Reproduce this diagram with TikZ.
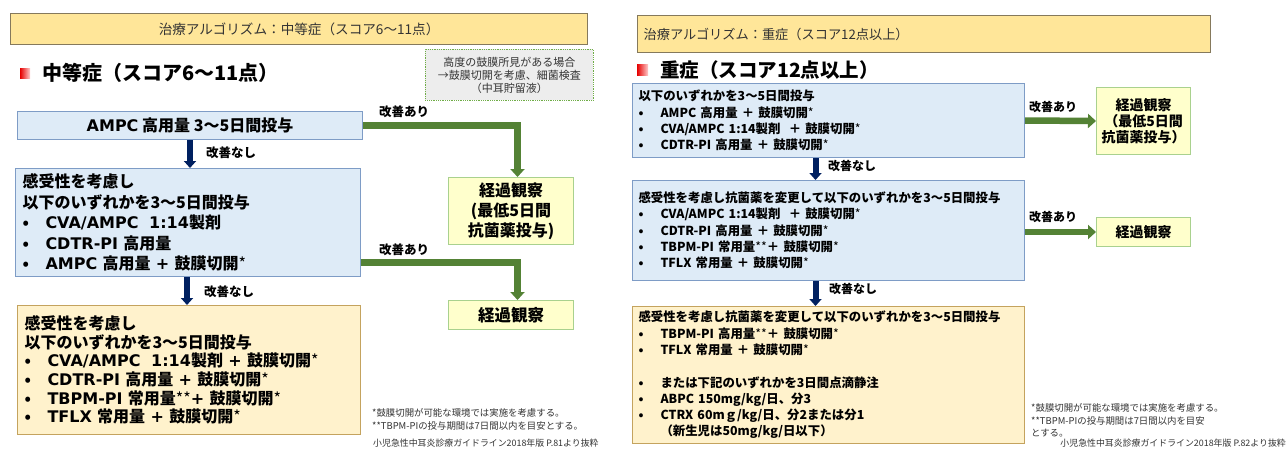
\documentclass[tikz,border=0pt]{standalone}
\usepackage{fontspec}
\setmainfont{Noto Sans CJK JP}
\newfontfamily\djvfont{DejaVu Sans}
\newcommand{\dvl}[1]{{\djvfont #1}}
\usetikzlibrary{arrows.meta}
\definecolor{bannerfill}{HTML}{FFE699}
\definecolor{bannerline}{HTML}{85795C}
\definecolor{bluefill}{HTML}{DEEBF7}
\definecolor{blueline}{HTML}{7E9CC6}
\definecolor{yelfill}{HTML}{FFF2CC}
\definecolor{yelline}{HTML}{C4A35E}
\definecolor{grnfill}{HTML}{FFFFCC}
\definecolor{grnline}{HTML}{A9D18E}
\definecolor{arrowgreen}{HTML}{548235}
\definecolor{arrowblue}{HTML}{002060}
\definecolor{notefill}{HTML}{EDEDED}
\definecolor{noteline}{HTML}{70AD47}
\definecolor{txtgray}{HTML}{333333}
\newcommand{\itmL}{\makebox[23pt][l]{•}}
\newcommand{\itmR}{\makebox[22pt][l]{•}}
\newcommand{\fnast}{{\mdseries *}}
\tikzset{
  boxbase/.style={draw, line width=1pt, anchor=north west, inner ysep=0pt},
  bluebox/.style={boxbase, fill=bluefill, draw=blueline},
  yelbox/.style={boxbase, fill=yelfill, draw=yelline},
  grnbox/.style={boxbase, fill=grnfill, draw=grnline, align=center, inner xsep=0pt},
  banner/.style={boxbase, fill=bannerfill, draw=bannerline, line width=1.2pt, text=txtgray},
  fontL/.style={font=\fontsize{16}{20.5}\selectfont\bfseries},
  fontC/.style={font=\fontsize{16}{18.6}\selectfont\bfseries},
  fontR/.style={font=\fontsize{12.4}{16.3}\selectfont\bfseries},
  lbl/.style={font=\fontsize{12.5}{15}\selectfont\bfseries},
  foot/.style={font=\fontsize{9.4}{12}\selectfont, text=txtgray, anchor=west, inner sep=0pt},
  garrow/.style={draw=arrowgreen, line width=6.5pt, -{Triangle[width=14pt,length=8pt]}},
  barrow/.style={draw=arrowblue, line width=6pt, -{Triangle[width=12pt,length=7pt]}},
}
\begin{document}
\begin{tikzpicture}[x=1pt,y=-1pt]
\useasboundingbox (0,0) rectangle (1287,448);
\fill[white] (0,0) rectangle (1287,448);

% ---------------- LEFT ----------------
\node[banner, minimum width=577pt, minimum height=31pt, align=center,
      font=\fontsize{13.6}{16}\selectfont] (TL) at (10,13) {治療アルゴリズム：中等症（スコア6～11点）};
\shade[left color=red!90!black, right color=red!20] (20,68) rectangle (30,78);
\node[anchor=west, inner sep=0pt, font=\fontsize{20}{24}\selectfont\bfseries] (HL) at (42,73) {中等症（スコア6～11点）};
\node[boxbase, fill=notefill, draw=noteline, line width=0.8pt, densely dotted,
      minimum width=168pt, minimum height=51pt, align=center, text=txtgray,
      font=\fontsize{11}{13}\selectfont] (NOTE) at (425,49) {高度の鼓膜所見がある場合\\→鼓膜切開を考慮、細菌検査\\（中耳貯留液）};

\node[bluebox, fontL, minimum width=345pt, minimum height=28pt, align=center] (A) at (17,111) {\dvl{AMPC} 高用量 3～5日間投与};
\node[bluebox, fontL, minimum width=345pt, minimum height=108pt, text width=331pt, inner xsep=7pt, align=left] (B) at (15,168)
 {感受性を考慮し\\以下のいずれかを3～5日間投与\\\itmL \dvl{CVA/AMPC~~1:14}製剤\\\itmL \dvl{CDTR-PI} 高用量\\\itmL \dvl{AMPC} 高用量\dvl{ + }鼓膜切開\fnast};
\node[yelbox, fontC, minimum width=343pt, minimum height=129pt, text width=329pt, inner xsep=7pt, align=left] (C) at (17,305)
 {感受性を考慮し\\以下のいずれかを3～5日間投与\\\itmL \dvl{CVA/AMPC~~1:14}製剤\dvl{ + }鼓膜切開\fnast\\\itmL \dvl{CDTR-PI} 高用量\dvl{ + }鼓膜切開\fnast\\\itmL \dvl{TBPM-PI} 常用量{\mdseries **}\dvl{+ }鼓膜切開\fnast\\\itmL \dvl{TFLX} 常用量\dvl{ + }鼓膜切開\fnast};
\node[grnbox, minimum width=125pt, minimum height=67pt, font=\fontsize{16}{20.2}\selectfont\bfseries] (GL1) at (448,177) {経過観察\\(最低5日間\\抗菌薬投与)};
\node[grnbox, minimum width=125pt, minimum height=29pt, font=\fontsize{16.5}{20}\selectfont\bfseries] (GL2) at (448,300) {経過観察};

\draw[garrow] (A.east) -| ([xshift=6.5pt]GL1.north);
\draw[garrow] ([yshift=-40pt]B.east) -| ([xshift=6.5pt]GL2.north);
\draw[barrow] (A.south) -- (A.south |- B.north);
\draw[barrow] ([xshift=-1pt]B.south) -- ([xshift=-1pt]B.south |- C.north);
\node[lbl] (LA1) at (404,112) {改善あり};
\node[lbl] (LA2) at (404,250) {改善あり};
\node[lbl] (LN1) at (231,153) {改善なし};
\node[lbl] (LN2) at (229,292) {改善なし};

\node[foot] (FL1) at (372,413) {*鼓膜切開が可能な環境では実施を考慮する。};
\node[foot] (FL2) at (372,426) {**TBPM-PIの投与期間は7日間以内を目安とする。};
\node[foot, font=\fontsize{8.9}{11}\selectfont] (RL) at (373,443) {小児急性中耳炎診療ガイドライン2018年版 P.81より抜粋};

% ---------------- RIGHT ----------------
\node[banner, minimum width=573pt, minimum height=37pt, text width=561pt, inner xsep=6pt, align=left,
      font=\fontsize{13.2}{16}\selectfont] (TR) at (637,15) {治療アルゴリズム：重症（スコア12点以上）};
\shade[left color=red!90!black, right color=red!20] (637,64) rectangle (648,75);
\node[anchor=west, inner sep=0pt, font=\fontsize{19.5}{24}\selectfont\bfseries] (HR) at (660,70) {重症（スコア12点以上）};

\node[bluebox, fontR, minimum width=392pt, minimum height=74pt, text width=380pt, inner xsep=6pt, align=left] (R1) at (632,83)
 {以下のいずれかを3～5日間投与\\\itmR AMPC 高用量 ＋ 鼓膜切開\fnast\\\itmR CVA/AMPC 1:14製剤~~＋ 鼓膜切開\fnast\\\itmR CDTR-PI 高用量 ＋ 鼓膜切開\fnast};
\node[bluebox, fontR, minimum width=392pt, minimum height=100pt, text width=380pt, inner xsep=6pt, align=left] (R2) at (632,180)
 {感受性を考慮し抗菌薬を変更して以下のいずれかを3～5日間投与\\\itmR CVA/AMPC 1:14製剤~~＋ 鼓膜切開\fnast\\\itmR CDTR-PI 高用量 ＋ 鼓膜切開\fnast\\\itmR TBPM-PI 常用量{\mdseries **}＋ 鼓膜切開\fnast\\\itmR TFLX 常用量 ＋ 鼓膜切開\fnast};
\node[yelbox, fontR, minimum width=392pt, minimum height=137pt, text width=380pt, inner xsep=6pt, align=left] (R3) at (632,306)
 {感受性を考慮し抗菌薬を変更して以下のいずれかを3～5日間投与\\\itmR TBPM-PI 高用量{\mdseries **}＋ 鼓膜切開\fnast\\\itmR TFLX 常用量 ＋ 鼓膜切開\fnast\\[16.3pt]\itmR または下記のいずれかを3日間点滴静注\\\itmR ABPC 150mg/kg/日、分3\\\itmR CTRX 60mｇ/kg/日、分2または分1\\\hspace*{22pt}（新生児は50mg/kg/日以下）};
\node[grnbox, minimum width=94pt, minimum height=67pt, font=\fontsize{14}{16.2}\selectfont\bfseries] (GR1) at (1096,87) {経過観察\\（最低5日間\\抗菌薬投与）};
\node[grnbox, minimum width=94pt, minimum height=29pt, font=\fontsize{14}{16}\selectfont\bfseries] (GR2) at (1096,217) {経過観察};

\draw[garrow] (R1.east) -- (GR1.west);
\draw[garrow] (GR2.west -| R2.east) -- (GR2.west);
\draw[barrow] ([xshift=-13pt]R1.south) -- ([xshift=-13pt]R1.south |- R2.north);
\draw[barrow] ([xshift=-13pt]R2.south) -- ([xshift=-13pt]R2.south |- R3.north);
\node[lbl, font=\fontsize{12}{14}\selectfont\bfseries] (RA1) at (1053,107) {改善あり};
\node[lbl, font=\fontsize{12}{14}\selectfont\bfseries] (RA2) at (1053,217) {改善あり};
\node[lbl, font=\fontsize{12}{14}\selectfont\bfseries] (RN1) at (852,166) {改善なし};
\node[lbl, font=\fontsize{12}{14}\selectfont\bfseries] (RN2) at (853,289) {改善なし};

\node[foot] (FR1) at (1031,408) {*鼓膜切開が可能な環境では実施を考慮する。};
\node[foot] (FR2) at (1031,421) {**TBPM-PIの投与期間は7日間以内を目安};
\node[foot] (FR3) at (1031,433) {とする。};
\node[foot, anchor=east, font=\fontsize{8.9}{11}\selectfont] (RR) at (1286,443) {小児急性中耳炎診療ガイドライン2018年版 P.82より抜粋};
\end{tikzpicture}
\end{document}
